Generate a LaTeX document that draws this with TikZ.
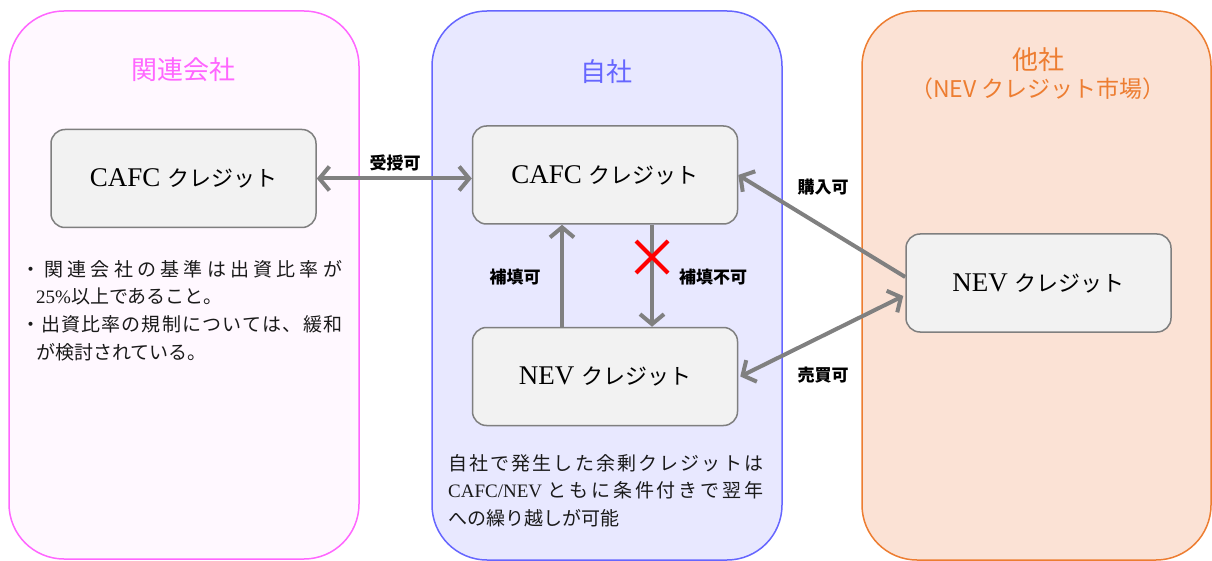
\documentclass[tikz,border=0pt]{standalone}
\usepackage{fontspec}
\setmainfont{Liberation Serif}
\newfontfamily\cjk{Noto Sans CJK JP}
\usetikzlibrary{arrows.meta}
\definecolor{lfill}{HTML}{FFF8FF}
\definecolor{lline}{HTML}{FF66FF}
\definecolor{mfill}{HTML}{E8E8FF}
\definecolor{mline}{HTML}{6666FF}
\definecolor{rfill}{HTML}{FBE2D5}
\definecolor{rline}{HTML}{ED7D31}
\definecolor{boxfill}{HTML}{F2F2F2}
\definecolor{boxline}{HTML}{7F7F7F}
\definecolor{arrowgray}{HTML}{808080}
\definecolor{txt}{HTML}{1A1A1A}
\newcommand{\kt}[1]{{\cjk\fontsize{22}{26}\selectfont #1}}
\begin{document}
\begin{tikzpicture}[x=1pt,y=-1pt,
  panel/.style={line width=1.5pt, rounded corners=55pt},
  credit/.style={draw=boxline, fill=boxfill, line width=1.5pt, rounded corners=14pt,
    minimum width=265pt, minimum height=98pt, inner sep=0pt,
    font=\fontsize{27}{30}\selectfont},
  flow/.style={draw=arrowgray, line width=4pt, -{Straight Barb[length=10pt,width=24pt]}},
  flow2/.style={draw=arrowgray, line width=4pt, {Straight Barb[length=10pt,width=24pt]}-{Straight Barb[length=10pt,width=24pt]}},
  lbl/.style={font=\cjk\bfseries\fontsize{17}{20}\selectfont, text=black, inner sep=0pt},
  ttl/.style={font=\cjk\fontsize{26}{28}\selectfont, inner sep=0pt},
  body/.style={font=\cjk\fontsize{19}{27.7}\selectfont, text=txt, align=left, inner sep=0pt}
]
\useasboundingbox (0,0) rectangle (1212,561);
% panels
\draw[panel, draw=lline, fill=lfill] (9,11) rectangle (359,559);
\draw[panel, draw=mline, fill=mfill] (432,11) rectangle (782,560);
\draw[panel, draw=rline, fill=rfill] (862,11) rectangle (1211,560);
% titles
\node[ttl, text=lline] (tL) at (183,70) {関連会社};
\node[ttl, text=mline] (tM) at (606,72) {自社};
\node[ttl, text=rline, align=center] (tR) at (1038,74) {他社\\{\fontsize{23}{28}\selectfont （NEV クレジット市場）}};
% credit boxes
\node[credit] (cafcL) at (183.5,178.5) {CAFC \kt{クレジット}};
\node[credit] (cafcM) at (605,175) {CAFC \kt{クレジット}};
\node[credit] (nevM) at (605,376.5) {NEV \kt{クレジット}};
\node[credit] (nevR) at (1038.5,283) {NEV \kt{クレジット}};
% connectors
\draw[flow2] (cafcL.east) -- (cafcL.east -| cafcM.west);
\draw[flow] ([xshift=-43pt]nevM.north) -- ([xshift=-43pt]cafcM.south);
\draw[flow] ([xshift=47pt]cafcM.south) -- ([xshift=47pt]nevM.north);
\draw[flow] ([yshift=6pt]nevR.west) -- (cafcM.east);
\draw[flow2] ([xshift=2pt]nevM.east) -- ([xshift=-2pt,yshift=-13pt]nevR.west);
% red cross
\draw[red, line width=4pt] (636,241) -- (668,273) (636,273) -- (668,241);
% labels
\node[lbl] (l1) at (395,163) {受授可};
\node[lbl] (l2) at (515,277) {補填可};
\node[lbl] (l3) at (713,277) {補填不可};
\node[lbl] (l4) at (823,187) {購入可};
\node[lbl] (l5) at (823,375) {売買可};
% body texts
\node[body, anchor=north west] (noteL) at (21,260) {%
\makebox[321pt][s]{・\hfill 関\hfill 連\hfill 会\hfill 社\hfill の\hfill 基\hfill 準\hfill は\hfill 出\hfill 資\hfill 比\hfill 率\hfill が}\\
\hspace*{15pt}{\rmfamily 25\%}以上であること。\\
\makebox[321pt][s]{・\hfill 出\hfill 資\hfill 比\hfill 率\hfill の\hfill 規\hfill 制\hfill に\hfill つ\hfill い\hfill て\hfill は\hfill 、\hfill 緩\hfill 和}\\
\hspace*{15pt}が検討されている。};
\node[body, anchor=north west] (noteM) at (448,454) {%
\makebox[315pt][s]{自\hfill 社\hfill で\hfill 発\hfill 生\hfill し\hfill た\hfill 余\hfill 剰\hfill ク\hfill レ\hfill ジ\hfill ッ\hfill ト\hfill は}\\
\makebox[315pt][s]{{\rmfamily CAFC/NEV}\hfill\hfill と\hfill も\hfill に\hfill 条\hfill 件\hfill 付\hfill き\hfill で\hfill 翌\hfill 年}\\
への繰り越しが可能};
\end{tikzpicture}
\end{document}
